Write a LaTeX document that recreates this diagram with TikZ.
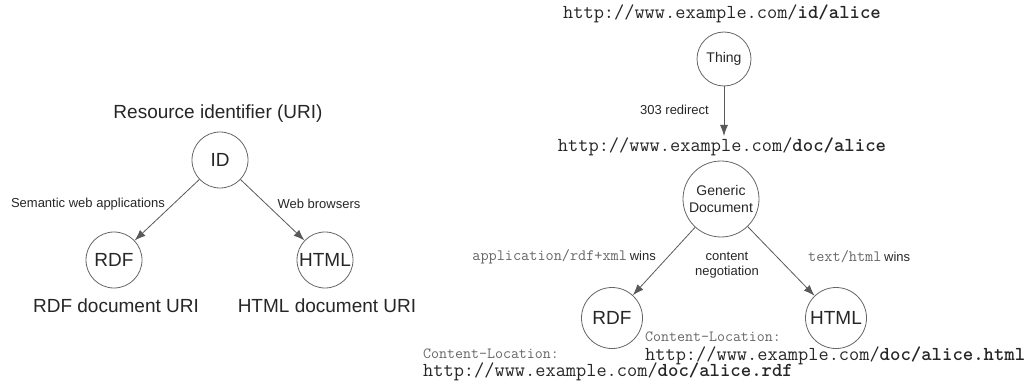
\documentclass[tikz,border=0pt]{standalone}
\usepackage{fontspec}
\setmainfont{Liberation Sans}
\usetikzlibrary{arrows.meta}
\tikzset{
  circ/.style={circle, draw=black!60, line width=0.8pt, inner sep=0pt, text=black!85},
  smallcirc/.style={circ, minimum size=56pt},
  bigfont/.style={font=\fontsize{19}{22}\selectfont},
  lbl/.style={font=\fontsize{13}{15}\selectfont, text=black!85, inner sep=1pt},
  uri/.style={font=\ttfamily\fontsize{19.8}{21}\selectfont, text=black!85, inner sep=0pt},
  hdr/.style={font=\ttfamily\fontsize{15.5}{17}\selectfont, text=black!60, inner sep=0pt},
  link/.style={draw=black!65, line width=0.8pt, -{Latex[length=11pt,width=8pt]}},
}
\newcommand\monosmall{\ttfamily\fontsize{15.8}{17}\selectfont\color{black!60}}
\newcommand\sanssmall{\fontsize{13}{15}\selectfont\color{black!85}}
\begin{document}
\begin{tikzpicture}[x=1pt,y=-1pt]
\useasboundingbox (0,0) rectangle (1031,385);

% ---- left: one identifier, two representations ----
\node[bigfont, text=black!85] (title) at (218,114) {Resource identifier (URI)};
\node[smallcirc, bigfont] (id) at (220,160) {ID};
\node[smallcirc, bigfont] (rdfL) at (114,260) {RDF};
\node[smallcirc, bigfont] (htmlL) at (325,260) {HTML};
\draw[link] (id) -- (rdfL);
\draw[link] (id) -- (htmlL);
\node[lbl] (sem) at (88,204) {Semantic web applications};
\node[lbl] (web) at (319,204) {Web browsers};
\node[bigfont, text=black!85] (rdfcap) at (116,306) {RDF document URI};
\node[bigfont, text=black!85] (htmlcap) at (327,306) {HTML document URI};

% ---- right: 303 redirect and content negotiation ----
\node[uri] (idurl) at (722,14) {http://www.example.com/\textbf{id/alice}};
\node[circ, minimum size=54pt, font=\fontsize{14}{16}\selectfont] (thing) at (724,59) {Thing};
\coordinate (redirtip) at (724,136);
\draw[link] (thing) -- (redirtip);
\node[lbl, anchor=east] (redir) at (710,110) {303 redirect};
\node[uri] (docurl) at (722,147) {http://www.example.com/\textbf{doc/alice}};

\node[circ, minimum size=76pt, align=center, font=\fontsize{14}{17}\selectfont] (gen) at (721,199) {Generic\\Document};
\node[circ, minimum size=61pt, bigfont] (rdfR) at (612,318) {RDF};
\node[circ, minimum size=61pt, bigfont] (htmlR) at (836,318) {HTML};
\draw[link] (gen) -- (rdfR);
\draw[link] (gen) -- (htmlR);

\node[anchor=east, inner sep=1pt] (rdfwins) at (657,257)
  {{\monosmall application/rdf+xml} {\sanssmall wins}};
\node[lbl, align=center] (neg) at (727,265) {content\\negotiation};
\node[anchor=west, inner sep=1pt] (htmlwins) at (807,257)
  {{\monosmall text/html} {\sanssmall wins}};

\node[hdr, anchor=west] (clR) at (423,354) {Content-Location:};
\node[uri, anchor=west] (rdfurl) at (423,372) {http://www.example.com/\textbf{doc/alice.rdf}};
\node[hdr, anchor=west] (clH) at (645,337) {Content-Location:};
\node[uri, anchor=west] (htmlurl) at (645,356) {http://www.example.com/\textbf{doc/alice.html}};
\end{tikzpicture}
\end{document}
